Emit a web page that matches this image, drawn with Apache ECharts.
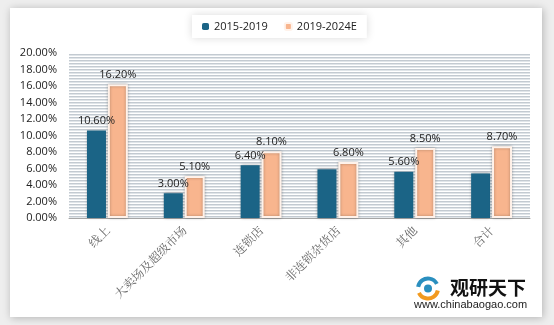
<!DOCTYPE html>
<html>
<head>
<meta charset="utf-8">
<script src="https://cdn.jsdelivr.net/npm/echarts@6/dist/echarts.min.js"></script>
<style>
  html, body { margin: 0; padding: 0; background: #eeeeee; }
  #chart { width: 554px; height: 325px; }
</style>
</head>
<body>
<div id="chart"></div>
<script>
// Channel categories
const categories = ['线上', '大卖场及超级市场', '连锁店', '非连锁杂货店', '其他', '合计'];
// Growth rates (%)
const series2015 = [10.6, 3.0, 6.4, 5.9, 5.6, 5.4];
const series2019 = [16.2, 5.1, 8.1, 6.8, 8.5, 8.7];
// Which bars carry a value label
const show2015 = [true, true, true, false, true, false];
const show2019 = [true, true, true, true, true, true];
const legendNames = ['2015-2019', '2019-2024E'];

// Striped plot background
function stripePattern() {
  const c = document.createElement('canvas');
  c.width = 8; c.height = 3;
  const g = c.getContext('2d');
  g.fillStyle = '#ffffff';
  g.fillRect(0, 0, 8, 3);
  g.fillStyle = '#c3cad1';
  g.fillRect(0, 0, 8, 1);
  g.fillStyle = '#e0e5e9';
  g.fillRect(0, 1, 8, 1);
  return { image: c, repeat: 'repeat' };
}

const chart = echarts.init(document.getElementById('chart'));
const fmt = v => v.toFixed(2) + '%';

function build(vals, shows) {
  return vals.map((v, i) => ({ value: v, label: { show: shows[i] } }));
}

chart.setOption({
  animation: false,
  textStyle: { fontFamily: 'Open Sans' },
  graphic: [
    {
      type: 'rect', z: -10, silent: true,
      shape: { x: 10, y: 8, width: 532, height: 309 },
      style: { fill: '#ffffff', shadowBlur: 8, shadowColor: 'rgba(0,0,0,0.25)', shadowOffsetX: 1, shadowOffsetY: 1 }
    },
    {
      type: 'group', left: 414, top: 276,
      children: [
        { type: 'arc', shape: { cx: 14, cy: 11, r: 10, startAngle: 3.3, endAngle: 5.8 }, style: { stroke: '#2a8fbf', lineWidth: 4, fill: null } },
        { type: 'arc', shape: { cx: 14, cy: 11, r: 10, startAngle: 0.2, endAngle: 2.7 }, style: { stroke: '#f29a1f', lineWidth: 4, fill: null } },
        { type: 'circle', shape: { cx: 14, cy: 11, r: 4 }, style: { fill: '#2a8fbf' } },
        { type: 'text', x: 36, y: 1, style: { text: '观研天下', font: 'bold 19px "Noto Sans CJK SC"', fill: '#111' } },
        { type: 'text', x: 0, y: 22, style: { text: 'www.chinabaogao.com', font: '11px "Liberation Sans"', fill: '#222' } }
      ]
    }
  ],
  legend: {
    data: legendNames,
    top: 15, left: 192,
    padding: [6, 10, 6, 10],
    itemWidth: 7, itemHeight: 7, itemGap: 16,
    backgroundColor: '#ffffff',
    shadowBlur: 8, shadowColor: 'rgba(0,0,0,0.15)',
    textStyle: { fontSize: 11, color: '#222' }
  },
  grid: {
    left: 69, right: 24, top: 53, bottom: 107,
    show: true, borderWidth: 0,
    backgroundColor: stripePattern()
  },
  xAxis: {
    type: 'category',
    data: categories,
    axisTick: { show: false },
    axisLine: { lineStyle: { color: '#a6a6a6' } },
    axisLabel: { rotate: 45, fontSize: 12, color: '#666', fontFamily: 'Noto Serif CJK SC, Noto Sans CJK SC', margin: 10 }
  },
  yAxis: {
    type: 'value',
    min: 0, max: 20, interval: 2,
    axisLine: { show: false },
    axisTick: { show: false },
    splitLine: { show: false },
    axisLabel: { fontSize: 11, color: '#222', formatter: v => v.toFixed(2) + '%', margin: 12 }
  },
  series: [
    {
      name: legendNames[0], type: 'bar',
      data: build(series2015, show2015),
      barWidth: 19, barGap: '10%',
      itemStyle: { color: '#1b6486', shadowBlur: 3, shadowColor: 'rgba(0,0,0,0.3)' },
      label: { position: 'top', fontSize: 11, color: '#222', formatter: p => fmt(p.value), distance: 4 }
    },
    {
      name: legendNames[1], type: 'bar',
      data: build(series2019, show2019),
      barWidth: 20,
      itemStyle: { color: '#f8b58e', borderColor: '#fff2ea', borderWidth: 2, shadowBlur: 3, shadowColor: 'rgba(0,0,0,0.3)' },
      label: { position: 'top', fontSize: 11, color: '#222', formatter: p => fmt(p.value), distance: 4 }
    }
  ]
});
</script>
</body>
</html>
